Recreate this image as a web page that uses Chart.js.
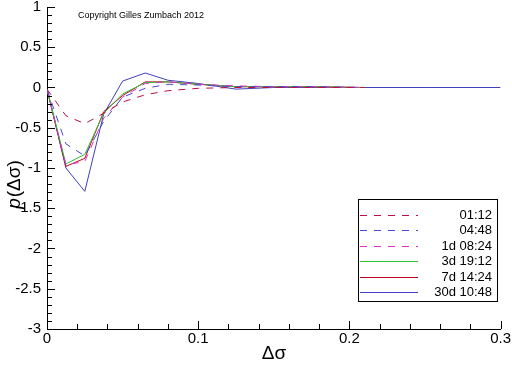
<!DOCTYPE html>
<html>
<head>
<meta charset="utf-8">
<script src="https://cdn.jsdelivr.net/npm/chart.js@4/dist/chart.umd.min.js"></script>
<style>
  html, body { margin: 0; padding: 0; background: #fff; }
  #wrap { width: 512px; height: 366px; }
</style>
</head>
<body>
<div id="wrap"><canvas id="c" width="512" height="366"></canvas></div>
<script>
const xShort = [0, 0.0125, 0.025, 0.0375, 0.05, 0.065, 0.08, 0.1, 0.125, 0.15, 0.175, 0.21];
const xLong = [0, 0.0125, 0.025, 0.0375, 0.05, 0.065, 0.08, 0.1, 0.125, 0.15, 0.175, 0.21, 0.25, 0.3];

const labels = ["01:12", "04:48", "1d 08:24", "3d 19:12", "7d 14:24", "30d 10:48"];
const v0112 = [-0.02, -0.35, -0.45, -0.32, -0.18, -0.09, -0.04, -0.01, 0, 0, 0, 0];
const v0448 = [-0.02, -0.7, -0.85, -0.42, -0.12, -0.01, 0.04, 0.03, 0.01, 0.01, 0.01, 0];
const v1d = [-0.02, -0.96, -0.92, -0.38, -0.12, 0.05, 0.07, 0.04, 0.02, 0.01, 0.01, 0];
const v3d = [-0.02, -0.95, -0.83, -0.32, -0.08, 0.06, 0.07, 0.04, 0.01, 0.01, 0.01, 0];
const v7d = [-0.02, -0.98, -0.88, -0.3, -0.1, 0.07, 0.07, 0.04, 0.01, 0.01, 0.01, 0];
const v30d = [-0.02, -1.0, -1.29, -0.33, 0.08, 0.18, 0.09, 0.05, -0.02, 0, 0, 0, 0, 0];

const xTicks = [0, 0.1, 0.2, 0.3];
const yTicks = [1, 0.5, 0, -0.5, -1, -1.5, -2, -2.5, -3];

const colors = ["#c01040", "#4848d0", "#e030c8", "#30c030", "#c00020", "#4040c0"];
const dashes = [[7, 7], [7, 7], [7, 7], [], [], []];

const pts = (xs, ys) => ys.map((y, i) => ({ x: xs[i], y: y }));
const series = [pts(xShort, v0112), pts(xShort, v0448), pts(xShort, v1d),
                pts(xShort, v3d), pts(xShort, v7d), pts(xLong, v30d)];

const FONT = "'Liberation Sans', Arial, sans-serif";

// inward ticks, axis titles, note and legend box
const extras = {
  id: "extras",
  afterDraw(chart) {
    const ctx = chart.ctx;
    const xs = chart.scales.x, ys = chart.scales.y;
    const a = chart.chartArea;
    ctx.save();
    ctx.strokeStyle = "#000";
    ctx.lineWidth = 1;
    ctx.beginPath();
    for (let v = 0; v <= 0.3001; v += 0.02) {
      const px = Math.round(xs.getPixelForValue(v)) + 0.5;
      const major = Math.abs(v / 0.1 - Math.round(v / 0.1)) < 1e-6;
      ctx.moveTo(px, a.bottom);
      ctx.lineTo(px, a.bottom - (major ? 8 : 5));
    }
    for (let v = -3; v <= 1.0001; v += 0.1) {
      const py = Math.round(ys.getPixelForValue(v)) + 0.5;
      const major = Math.abs(v / 0.5 - Math.round(v / 0.5)) < 1e-6;
      ctx.moveTo(a.left, py);
      ctx.lineTo(a.left + (major ? 8 : 5), py);
    }
    ctx.stroke();

    ctx.fillStyle = "#000";
    ctx.font = "9px " + FONT;
    ctx.textAlign = "left";
    ctx.textBaseline = "middle";
    ctx.fillText("Copyright Gilles Zumbach 2012", 78, 16);

    ctx.font = "19px " + FONT;
    ctx.textAlign = "center";
    ctx.fillText("\u0394\u03c3", 274, 354);

    ctx.save();
    ctx.translate(15, 185);
    ctx.rotate(-Math.PI / 2);
    ctx.font = "italic 19px " + FONT;
    const w1 = ctx.measureText("p").width;
    ctx.font = "19px " + FONT;
    const w2 = ctx.measureText("(\u0394\u03c3)").width;
    const start = -(w1 + w2) / 2;
    ctx.textAlign = "left";
    ctx.font = "italic 19px " + FONT;
    ctx.fillText("p", start, 0);
    ctx.font = "19px " + FONT;
    ctx.fillText("(\u0394\u03c3)", start + w1 + 1, 0);
    ctx.restore();

    // legend
    ctx.fillStyle = "#fff";
    ctx.fillRect(358.5, 199.5, 139, 102);
    ctx.strokeStyle = "#000";
    ctx.strokeRect(358.5, 199.5, 139, 102);
    ctx.font = "13px " + FONT;
    ctx.textAlign = "right";
    chart.data.datasets.forEach((ds, i) => {
      const y = Math.round(215 + i * 15.4) + 0.5;
      ctx.strokeStyle = ds.borderColor;
      ctx.setLineDash(ds.borderDash);
      ctx.beginPath();
      ctx.moveTo(360, y);
      ctx.lineTo(418, y);
      ctx.stroke();
      ctx.setLineDash([]);
      ctx.fillStyle = "#000";
      ctx.fillText(ds.label, 492, y);
    });
    ctx.restore();
  }
};

new Chart(document.getElementById("c"), {
  type: "scatter",
  data: {
    datasets: series.map((d, i) => ({
      label: labels[i],
      data: d,
      showLine: true,
      borderColor: colors[i],
      borderDash: dashes[i],
      borderWidth: 1,
      pointRadius: 0,
      tension: 0,
    })),
  },
  options: {
    responsive: false,
    animation: false,
    layout: { padding: { top: 7, right: 9, left: 0, bottom: 0 } },
    plugins: { legend: { display: false }, tooltip: { enabled: false } },
    scales: {
      x: {
        type: "linear",
        min: 0,
        max: 0.3,
        afterBuildTicks: (s) => { s.ticks = xTicks.map((v) => ({ value: v })); },
        afterFit: (s) => { s.height = 37; },
        grid: { display: false, drawTicks: false },
        border: { display: true, color: "#000", width: 1 },
        ticks: {
          color: "#000",
          padding: 1,
          maxRotation: 0,
          font: { family: FONT, size: 15 },
          callback: (v) => String(+v.toFixed(1)),
        },
      },
      y: {
        type: "linear",
        min: -3,
        max: 1,
        afterBuildTicks: (s) => { s.ticks = yTicks.map((v) => ({ value: v })); },
        afterFit: (s) => { s.width = 47; s.paddingTop = 0; },
        grid: { display: false, drawTicks: false },
        border: { display: true, color: "#000", width: 1 },
        ticks: {
          color: "#000",
          padding: 6,
          font: { family: FONT, size: 15 },
          callback: (v) => String(+v.toFixed(1)),
        },
      },
    },
  },
  plugins: [extras],
});
</script>
</body>
</html>
